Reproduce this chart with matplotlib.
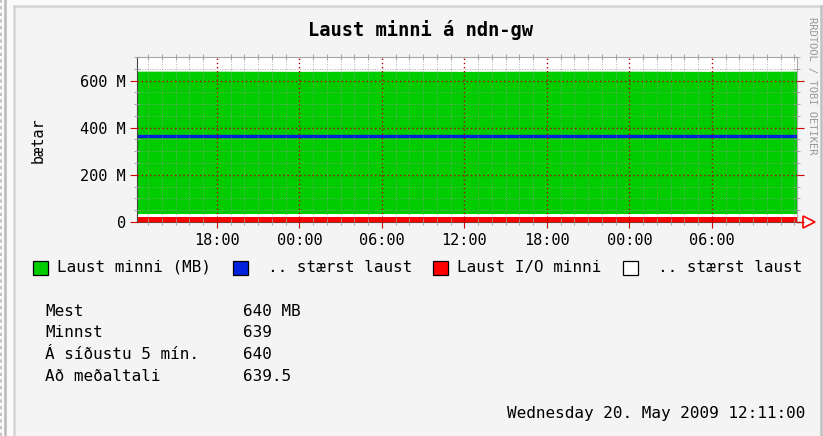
import datetime as dt
import matplotlib
matplotlib.use('Agg')
import matplotlib.pyplot as plt
import matplotlib.dates as mdates
from matplotlib.ticker import FuncFormatter, MultipleLocator, FixedLocator
from matplotlib.lines import Line2D
from matplotlib.patches import Rectangle

W, H = 823, 436

# samples (MB), 6-hour spacing over the 2-day window
times = ['2009-05-18 12:11', '2009-05-18 18:00', '2009-05-19 00:00', '2009-05-19 06:00',
         '2009-05-19 12:00', '2009-05-19 18:00', '2009-05-20 00:00', '2009-05-20 06:00',
         '2009-05-20 12:11']
free_mem = [640, 640, 639, 640, 639, 640, 640, 639, 640]
largest_free = [366, 366, 366, 366, 366, 366, 366, 366, 366]
io_free = [21, 21, 21, 21, 21, 21, 21, 21, 21]
io_largest = [36, 36, 36, 36, 36, 36, 36, 36, 36]

legend_labels = ['Laust minni (MB)', '.. stærst laust', 'Laust I/O minni', '.. stærst laust']
legend_colors = ['#00cc00', '#0022dd', '#ff0000', '#ffffff']
stat_names = ['Mest', 'Minnst', 'Á síðustu 5 mín.', 'Að meðaltali']
stat_values = ['640 MB', '639', '640', '639.5']
stamp = 'Wednesday 20. May 2009 12:11:00'

MONO = 'DejaVu Sans Mono'


def fx(px):
    return px / W


def fy(py):
    return 1 - py / H


def main():
    t = [dt.datetime.strptime(s, '%Y-%m-%d %H:%M') for s in times]
    mb = 1e6

    fig = plt.figure(figsize=(W / 100, H / 100), dpi=100, facecolor='#f4f4f4')

    # page frame bits around the rrd canvas
    fig.add_artist(Rectangle((0, 0), fx(13), 1, transform=fig.transFigure, color='#fafafa', zorder=0))
    fig.add_artist(Rectangle((0, fy(5)), 1, 5 / H, transform=fig.transFigure, color='#fafafa', zorder=0))
    fig.add_artist(Line2D([fx(1), fx(1)], [0, 1], color='#bbbbbb', lw=1.2, ls=(0, (2, 2))))
    fig.add_artist(Line2D([fx(5), fx(5)], [0, 1], color='#b8b8b8', lw=1.8))
    fig.add_artist(Line2D([fx(14), fx(14)], [0, fy(6)], color='#d4d4d4', lw=1.8))
    fig.add_artist(Line2D([fx(14), 1], [fy(6), fy(6)], color='#d4d4d4', lw=1.8))
    fig.add_artist(Line2D([fx(821), fx(821)], [0, fy(6)], color='#c0c0c0', lw=1.8))

    ax = fig.add_axes([fx(137), fy(222), fx(797) - fx(137), (222 - 57) / H])
    ax.set_facecolor('white')

    ax.fill_between(t, 0, [v * mb for v in free_mem], color=legend_colors[0], lw=0)
    ax.fill_between(t, 0, [v * mb for v in io_largest], color='white', lw=0)
    ax.fill_between(t, 0, [v * mb for v in io_free], color=legend_colors[2], lw=0)
    ax.plot(t, [v * mb for v in largest_free], color=legend_colors[1], lw=2.4)

    ax.set_xlim(t[0], t[-1])
    ax.set_ylim(0, 700 * mb)

    # rrdtool leaves out the label that falls right at the end of the window
    hours = mdates.HourLocator(byhour=[0, 6, 12, 18]).tick_values(t[0], t[-1])
    end = mdates.date2num(t[-1])
    ax.xaxis.set_major_locator(FixedLocator([h for h in hours if h < end - 1 / 24]))
    ax.xaxis.set_minor_locator(mdates.HourLocator(interval=1))
    ax.xaxis.set_major_formatter(mdates.DateFormatter('%H:%M'))
    ax.yaxis.set_major_locator(MultipleLocator(200 * mb))
    ax.yaxis.set_minor_locator(MultipleLocator(50 * mb))
    ax.yaxis.set_major_formatter(FuncFormatter(lambda v, p: '0' if v == 0 else f'{v / mb:.0f} M'))

    ax.set_axisbelow(False)
    ax.grid(True, which='major', color='#b00000', lw=1.0, ls=(0, (1, 2)))
    ax.grid(True, which='minor', color='#999999', lw=0.6, ls=(0, (1, 2)))

    ax.tick_params(axis='y', which='major', direction='out', length=5, color='#cc0000',
                   right=True, labelsize=11, pad=3)
    ax.tick_params(axis='y', which='minor', direction='inout', length=4, color='#999999', right=True)
    ax.tick_params(axis='x', which='major', direction='inout', length=8, color='#cc0000',
                   top=False, labelsize=11, pad=4)
    ax.tick_params(axis='x', which='minor', direction='inout', length=5, color='#999999', top=True)
    for lab in ax.get_xticklabels() + ax.get_yticklabels():
        lab.set_fontfamily(MONO)

    for side in ['top', 'right']:
        ax.spines[side].set_color('#aaaaaa')
        ax.spines[side].set_linewidth(0.8)
    ax.spines['left'].set_color('#444444')
    ax.spines['bottom'].set_color('#883333')

    # rrdtool style arrow at the end of the x axis
    ax.plot([1.0, 1.012], [0, 0], color='#883333', lw=1, transform=ax.transAxes, clip_on=False)
    ax.plot([1.0185], [0], marker='>', ms=8, mfc='white', mec='#ff0000', mew=1.2,
            transform=ax.transAxes, clip_on=False)

    fig.text(fx(420), fy(30), 'Laust minni á ndn-gw', ha='center', va='center',
             family=MONO, weight='bold', fontsize=13.5)
    fig.text(fx(38), fy(140), 'bætar', ha='center', va='center', rotation=90,
             family=MONO, fontsize=11)
    fig.text(fx(812), fy(86), 'RRDTOOL / TOBI OETIKER', ha='center', va='center', rotation=270,
             family=MONO, fontsize=7.5, color='#999999')

    box_x = [33, 233, 433, 623]
    text_x = [57, 268, 457, 658]
    for bx, tx, lab, col in zip(box_x, text_x, legend_labels, legend_colors):
        fig.add_artist(Rectangle((fx(bx), fy(275)), 15 / W, 14 / H, transform=fig.transFigure,
                                 fc=col, ec='black', lw=0.9))
        fig.text(fx(tx), fy(267), lab, ha='left', va='center', family=MONO, fontsize=11.5)

    for i, (name, val) in enumerate(zip(stat_names, stat_values)):
        y = [311, 332, 354, 376][i]
        fig.text(fx(45), fy(y), name, ha='left', va='center', family=MONO, fontsize=11.5)
        fig.text(fx(243), fy(y), val, ha='left', va='center', family=MONO, fontsize=11.5)

    fig.text(fx(805), fy(413), stamp, ha='right', va='center', family=MONO, fontsize=11.5)

    fig.savefig('out.png', dpi=100, facecolor=fig.get_facecolor())


if __name__ == '__main__':
    main()
